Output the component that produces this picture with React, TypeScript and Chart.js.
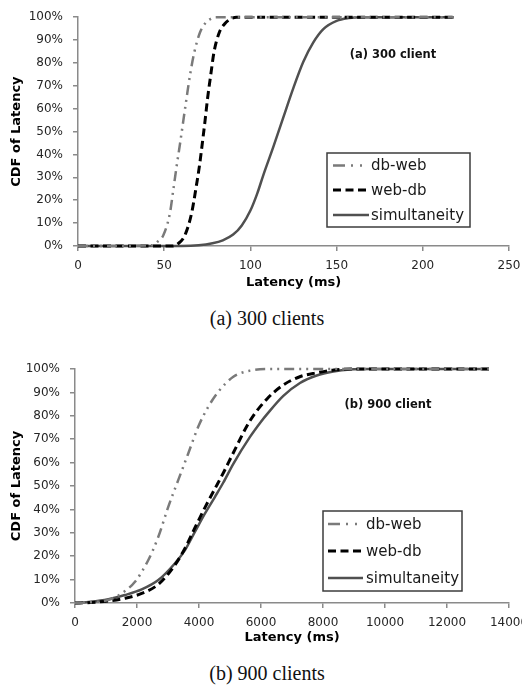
import React, { useEffect, useRef } from "react";
import { Chart, registerables } from "chart.js";
Chart.register(...registerables);

// ---------- data ----------
const seriesNames = ["db-web", "web-db", "simultaneity"];

// (a) 300 clients, latency in ms, CDF in %
const latencyA_dbWeb = [0, 43, 46, 49.5, 53.4, 55.3, 57.2, 59.2, 61.1, 63, 65, 67.5, 70.8, 74, 77, 80, 218];
const cdfA_dbWeb = [0, 0.3, 1.8, 4.7, 14.7, 24.7, 34.8, 44.8, 54.8, 64.8, 74.8, 84.8, 93.4, 97.5, 99.3, 100, 100];

const latencyA_webDb = [0, 55, 58, 62, 66, 68.3, 70.4, 72.1, 73.7, 75.2, 77, 78.9, 82, 85, 88, 92, 218];
const cdfA_webDb = [0, 0, 1, 4.7, 14.7, 24.7, 34.8, 44.8, 54.8, 64.8, 74.8, 84.8, 93.4, 97, 99, 100, 100];

const latencyA_sim = [0, 60, 70, 78, 84, 90, 95, 100, 104, 107.5, 113.3, 119.1, 124.9, 130.7, 136.5, 142.3, 150, 157, 165, 218];
const cdfA_sim = [0, 0, 0.3, 1.2, 2.5, 5, 9, 15.5, 23, 31, 43.3, 56.2, 69, 80.5, 89, 94.8, 98.4, 99.6, 100, 100];

// (b) 900 clients
const latencyB_dbWeb = [0, 500, 1075, 1505, 1935, 2366, 2688, 3011, 3333, 3656, 3978, 4301, 4624, 5107, 5645, 6200, 13355];
const cdfB_dbWeb = [0, 0.3, 1.3, 4.1, 9.1, 18.4, 28.3, 41.2, 52.6, 64, 75.4, 83.9, 90.3, 96.7, 99.3, 100, 100];

const latencyB_webDb = [0, 500, 1100, 1600, 2150, 2700, 3200, 3550, 3870, 4200, 4500, 4800, 5100, 5650, 6200, 6700, 7250, 7800, 8350, 8900, 13355];
const cdfB_webDb = [0, 0.2, 0.9, 2, 4.1, 8.1, 15.8, 23.4, 32.2, 41, 48.5, 56, 64, 78, 87.3, 93, 96.7, 98.4, 99.6, 100, 100];

const latencyB_sim = [0, 500, 1075, 1613, 2151, 2688, 3226, 3548, 3871, 4194, 4516, 4785, 5107, 5645, 6000, 6183, 6720, 7258, 7796, 8333, 8871, 9500, 13355];
const cdfB_sim = [0, 0.5, 1.6, 3.4, 5.8, 9.8, 17, 22.6, 30.5, 38.3, 45.4, 51.5, 59.5, 71, 77.5, 80.5, 88.5, 94, 97.2, 98.9, 99.8, 100, 100];

const xTicksA = [0, 50, 100, 150, 200, 250];
const xTicksB = [0, 2000, 4000, 6000, 8000, 10000, 12000, 14000];
const yTicks = [0, 10, 20, 30, 40, 50, 60, 70, 80, 90, 100];

const annotationA = "(a) 300 client";
const annotationB = "(b) 900 client";
const captionA = "(a) 300 clients";
const captionB = "(b) 900 clients";
const xTitle = "Latency (ms)";
const yTitle = "CDF of Latency";

// ---------- styles ----------
const lineStyles = [
  { color: "#7a7a7a", dash: [10, 5, 2, 5, 2, 5], legendDash: [12, 6, 2, 7, 2, 10], width: 2.5 },
  { color: "#000000", dash: [8, 4.5], legendDash: [8, 4.5], width: 3 },
  { color: "#505050", dash: [], legendDash: [], width: 2.5 },
];

const FONT = "'DejaVu Sans', sans-serif";

const toPoints = (xs: number[], ys: number[]) => xs.map((x, i) => ({ x, y: ys[i] }));

const boxLegend = {
  id: "boxLegend",
  afterDraw(chart: any, _args: any, opts: any) {
    const { ctx } = chart;
    ctx.save();
    ctx.fillStyle = "#ffffff";
    ctx.fillRect(opts.x, opts.y, opts.w, opts.h);
    ctx.strokeStyle = "#3c3c3c";
    ctx.lineWidth = 1.5;
    ctx.setLineDash([]);
    ctx.strokeRect(opts.x, opts.y, opts.w, opts.h);
    chart.data.datasets.forEach((ds: any, i: number) => {
      const y = opts.rows[i];
      ctx.beginPath();
      ctx.setLineDash(ds.legendDash || []);
      ctx.strokeStyle = ds.borderColor;
      ctx.lineWidth = ds.borderWidth;
      ctx.moveTo(opts.lineX0, y);
      ctx.lineTo(opts.lineX1, y);
      ctx.stroke();
      ctx.setLineDash([]);
      ctx.fillStyle = "#1a1a1a";
      ctx.font = `15px ${FONT}`;
      ctx.textBaseline = "middle";
      ctx.textAlign = "left";
      ctx.fillText(ds.label, opts.textX, y + 1);
    });
    ctx.restore();
  },
};

const annotationPlugin = {
  id: "annot",
  afterDraw(chart: any, _args: any, opts: any) {
    const { ctx } = chart;
    ctx.save();
    ctx.font = `bold 11.5px ${FONT}`;
    ctx.fillStyle = "#111";
    ctx.textAlign = "center";
    ctx.textBaseline = "middle";
    ctx.fillText(opts.text, opts.x, opts.y);
    ctx.restore();
  },
};

function makeConfig(p: any) {
  return {
    type: "line",
    data: {
      datasets: p.series.map((s: any, i: number) => ({
        label: seriesNames[i],
        data: toPoints(s[0], s[1]),
        borderColor: lineStyles[i].color,
        borderDash: lineStyles[i].dash,
        legendDash: lineStyles[i].legendDash,
        borderWidth: lineStyles[i].width,
        pointRadius: 0,
        fill: false,
        cubicInterpolationMode: "monotone",
        tension: 0.4,
        clip: 4,
      })),
    },
    options: {
      responsive: false,
      animation: false,
      devicePixelRatio: 1,
      layout: { padding: p.padding },
      plugins: {
        legend: { display: false },
        tooltip: { enabled: false },
        boxLegend: p.legend,
        annot: p.annot,
      },
      scales: {
        x: {
          type: "linear",
          min: 0,
          max: p.xMax,
          afterBuildTicks: (s: any) => {
            s.ticks = p.xTicks.map((v: number) => ({ value: v }));
          },
          afterFit: (s: any) => {
            s.height = p.xHeight;
          },
          grid: { display: true, drawOnChartArea: false, drawTicks: true, tickLength: 5, color: "#8a8a8a", lineWidth: 1.5 },
          border: { display: true, color: "#8a8a8a", width: 1.5 },
          ticks: {
            font: { family: FONT, size: 12 },
            color: "#262626",
            padding: 7.5,
            maxRotation: 0,
            autoSkip: false,
            callback: (v: any) => String(v),
          },
          title: { display: true, text: xTitle, font: { family: FONT, size: 13, weight: "bold" }, color: "#000", padding: { top: 0, bottom: 4.2 } },
        },
        y: {
          type: "linear",
          min: 0,
          max: 100,
          afterBuildTicks: (s: any) => {
            s.ticks = yTicks.map((v) => ({ value: v }));
          },
          afterFit: (s: any) => {
            s.width = p.yWidth;
          },
          grid: { display: true, drawOnChartArea: false, drawTicks: true, tickLength: 5, color: "#8a8a8a", lineWidth: 1.5 },
          border: { display: true, color: "#8a8a8a", width: 1.5 },
          ticks: { font: { family: FONT, size: 12 }, color: "#262626", padding: 10, callback: (v: any) => v + "%" },
          title: { display: true, text: yTitle, font: { family: FONT, size: 13, weight: "bold" }, color: "#000", padding: { top: 9.2, bottom: 0 } },
        },
      },
    },
    plugins: [boxLegend, annotationPlugin],
  };
}

function ChartCanvas(props: { width: number; height: number; config: any; top: number }) {
  const ref = useRef<HTMLCanvasElement | null>(null);
  useEffect(() => {
    if (!ref.current) return;
    const chart = new Chart(ref.current, props.config);
    return () => chart.destroy();
  }, []);
  return (
    <canvas
      ref={ref}
      width={props.width}
      height={props.height}
      style={{ position: "absolute", left: 0, top: props.top, width: props.width, height: props.height }}
    />
  );
}

const configA = makeConfig({
  series: [
    [latencyA_dbWeb, cdfA_dbWeb],
    [latencyA_webDb, cdfA_webDb],
    [latencyA_sim, cdfA_sim],
  ],
  xMax: 250,
  xTicks: xTicksA,
  padding: { top: 13, right: 21, left: 0, bottom: 0 },
  xHeight: 49,
  yWidth: 78,
  legend: { x: 327, y: 153, w: 143, h: 74, rows: [165.5, 190, 215], lineX0: 333, lineX1: 369, textX: 371 },
  annot: { text: annotationA, x: 393, y: 55 },
});

const configB = makeConfig({
  series: [
    [latencyB_dbWeb, cdfB_dbWeb],
    [latencyB_webDb, cdfB_webDb],
    [latencyB_sim, cdfB_sim],
  ],
  xMax: 14000,
  xTicks: xTicksB,
  padding: { top: 29, right: 31, left: 0, bottom: 0 },
  xHeight: 47,
  yWidth: 75,
  legend: { x: 323, y: 171, w: 139, h: 80, rows: [184, 211, 238], lineX0: 328, lineX1: 363, textX: 366 },
  annot: { text: annotationB, x: 388, y: 65 },
});

const captionStyle = (top: number): React.CSSProperties => ({
  position: "absolute",
  left: 167,
  width: 200,
  top,
  textAlign: "center",
  fontFamily: "'Liberation Serif', 'Times New Roman', serif",
  fontSize: 20,
  lineHeight: "20px",
  color: "#111",
  whiteSpace: "nowrap",
});

export default function App() {
  return (
    <div style={{ position: "fixed", left: 0, top: 0, width: 522, height: 685, overflow: "hidden", background: "#fff" }}>
      <ChartCanvas width={530} height={295} top={0} config={configA} />
      <div style={captionStyle(308)}>{captionA}</div>
      <ChartCanvas width={540} height={310} top={340} config={configB} />
      <div style={captionStyle(663)}>{captionB}</div>
    </div>
  );
}
